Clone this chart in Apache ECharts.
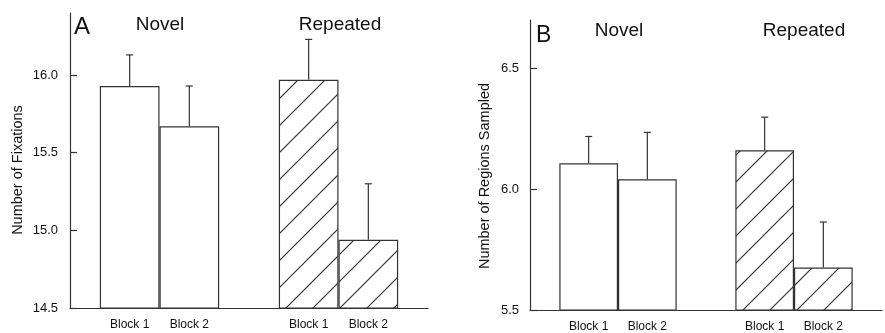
<!DOCTYPE html>
<html>
<head>
<meta charset="utf-8">
<script src="https://cdn.jsdelivr.net/npm/echarts@6/dist/echarts.min.js"></script>
<style>
  html, body { margin: 0; padding: 0; background: #fff; }
  #chart { width: 885px; height: 333px; }
</style>
</head>
<body>
<div id="chart"></div>
<script>
const chart = echarts.init(document.getElementById("chart"));

// blank slots keep the half gaps and the gap between Novel and Repeated
const blockLabels = ["", "Block 1", "Block 2", "", "Block 1", "Block 2", ""];
const repeatedSlot = [false, false, false, false, true, true, false];

// A: number of fixations (mean and top of error bar)
const fixationMeans = [null, 15.93, 15.67, null, 15.97, 14.94, null];
const fixationUpper = [null, 16.13, 15.93, null, 16.23, 15.3, null];
const fixationTicks = [14.5, 15.0, 15.5, 16.0];

// B: number of regions sampled
const regionMeans = [null, 6.107, 6.041, null, 6.161, 5.676, null];
const regionUpper = [null, 6.218, 6.235, null, 6.298, 5.864, null];
const regionTicks = [5.5, 6.0, 6.5];

const ink = "#333";
const font = "'Liberation Sans', Arial, sans-serif";

// diagonal hatch tile
function hatchPattern() {
  const size = 27;
  const c = document.createElement("canvas");
  c.width = size;
  c.height = size;
  const ctx = c.getContext("2d");
  ctx.strokeStyle = ink;
  ctx.lineWidth = 1.2;
  for (const off of [-size, 0, size]) {
    ctx.beginPath();
    ctx.moveTo(off - 1, size + 1);
    ctx.lineTo(off + size + 1, -1);
    ctx.stroke();
  }
  return { image: c, repeat: "repeat" };
}
const hatch = hatchPattern();

function barData(means) {
  return means.map((v, i) => ({
    value: v,
    itemStyle: { color: repeatedSlot[i] ? hatch : "#fff" },
  }));
}

function errorData(means, upper) {
  const out = [];
  means.forEach((m, i) => {
    if (m !== null) out.push([i, m, upper[i]]);
  });
  return out;
}

function renderError(params, api) {
  const base = api.coord([api.value(0), api.value(1)]);
  const top = api.coord([api.value(0), api.value(2)]);
  const style = { stroke: ink, lineWidth: 1.2 };
  return {
    type: "group",
    children: [
      { type: "line", shape: { x1: base[0], y1: base[1], x2: top[0], y2: top[1] }, style },
      { type: "line", shape: { x1: top[0] - 3.5, y1: top[1], x2: top[0] + 3.5, y2: top[1] }, style },
    ],
  };
}

function xAxisFor(gridIndex) {
  return {
    type: "category",
    gridIndex,
    data: blockLabels,
    boundaryGap: false,
    axisLine: { lineStyle: { color: ink, width: 1.2 } },
    axisTick: { show: false },
    axisLabel: { interval: 0, margin: 11, fontSize: 12, color: "#111", fontFamily: font },
  };
}

function yAxisFor(gridIndex, min, max, ticks, margin) {
  return {
    type: "value",
    gridIndex,
    min,
    max,
    interval: 0.5,
    splitLine: { show: false },
    axisLine: { show: true, lineStyle: { color: ink, width: 1.2 } },
    axisTick: { show: true, inside: true, length: 7, customValues: ticks, lineStyle: { color: ink, width: 1.2 } },
    axisLabel: {
      customValues: ticks,
      margin,
      fontSize: 13,
      color: "#111",
      fontFamily: font,
      formatter: (v) => v.toFixed(1),
    },
  };
}

function text(str, x, y, size, align, rotation) {
  return {
    type: "text",
    x,
    y,
    rotation: rotation || 0,
    style: {
      text: str,
      fontSize: size,
      fontFamily: font,
      fill: "#111",
      align: align || "center",
      verticalAlign: "middle",
    },
  };
}

const chartOption = {
  animation: false,
  grid: [
    { left: 70, top: 13, width: 358, height: 295 },
    { left: 530, top: 20, width: 360, height: 290.7 },
  ],
  xAxis: [xAxisFor(0), xAxisFor(1)],
  yAxis: [
    yAxisFor(0, 14.5, 16.4, fixationTicks, 12),
    yAxisFor(1, 5.5, 6.7, regionTicks, 11),
  ],
  series: [
    {
      type: "bar",
      xAxisIndex: 0,
      yAxisIndex: 0,
      barWidth: "100%",
      data: barData(fixationMeans),
      itemStyle: { borderColor: ink, borderWidth: 1.2 },
    },
    {
      type: "custom",
      xAxisIndex: 0,
      yAxisIndex: 0,
      renderItem: renderError,
      data: errorData(fixationMeans, fixationUpper),
      z: 3,
    },
    {
      type: "bar",
      xAxisIndex: 1,
      yAxisIndex: 1,
      barWidth: "100%",
      data: barData(regionMeans),
      itemStyle: { borderColor: ink, borderWidth: 1.2 },
    },
    {
      type: "custom",
      xAxisIndex: 1,
      yAxisIndex: 1,
      renderItem: renderError,
      data: errorData(regionMeans, regionUpper),
      z: 3,
    },
  ],
  graphic: [
    text("A", 74, 27, 24, "left"),
    text("Novel", 160, 25, 19),
    text("Repeated", 340, 25, 19),
    text("Number of Fixations", 18, 170, 14.5, "center", Math.PI / 2),
    text("B", 536, 36, 23, "left"),
    text("Novel", 619, 30.5, 19),
    text("Repeated", 804, 30.5, 19),
    text("Number of Regions Sampled", 485, 176, 14.5, "center", Math.PI / 2),
  ],
};

chart.setOption(chartOption);

window.addEventListener("resize", () => {
  chart.resize();
});
</script>
</body>
</html>
